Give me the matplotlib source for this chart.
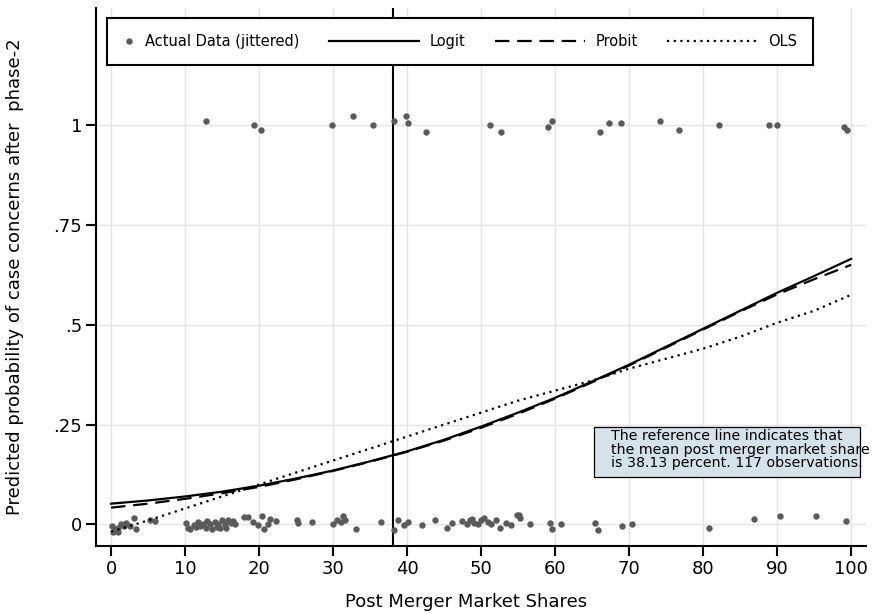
#!/usr/bin/env python3

# Predicted probability of a phase-2 case against the post merger market
# share: jittered outcomes plus the logit, probit and OLS fits

import matplotlib
matplotlib.use("Agg")
import matplotlib.pyplot as pyplot
from matplotlib.legend_handler import HandlerLine2D
from matplotlib.patches import Rectangle

OUTFILE = "out.png"
GRAPH_WID = 874
GRAPH_HEI = 614
DPI = 100

MEAN_SHARE = 38.13
NOTE = ("The reference line indicates that\n"
        "the mean post merger market share\n"
        "is 38.13 percent. 117 observations.")

# jittered outcomes of the cases that went to phase-2 (around 1)
phase2_share = [12.8, 19.3, 20.3, 29.9, 32.7, 35.4, 38.2, 39.8, 40.1, 42.6,
                51.2, 52.7, 59.0, 59.6, 66.1, 67.3, 68.9, 74.2, 76.7, 82.2,
                88.9, 90.0, 99.0, 99.5]
phase2_jit = [1.011, 1.0, 0.987, 1.0, 1.022, 1.0, 1.011, 1.022, 1.005, 0.983,
              1.0, 0.983, 0.995, 1.011, 0.983, 1.005, 1.005, 1.011, 0.987, 1.0,
              1.0, 1.0, 0.995, 0.987]

# jittered outcomes of the cleared cases (around 0)
cleared_share = [0.1, 0.2, 0.5, 0.9, 1.0, 1.3, 1.8, 2.0, 2.6, 3.1, 3.4,
                 5.3, 5.9,
                 10.1, 10.4, 10.7, 11.2, 11.5, 11.8, 12.0, 12.4, 12.8, 13.0,
                 13.4, 13.6, 14.0, 14.3, 14.5, 14.7, 15.0, 15.4, 15.6, 15.8,
                 16.2, 16.5, 16.8,
                 17.9, 18.5, 19.2, 19.9, 20.4, 20.7, 21.2, 21.5, 22.3,
                 25.1, 25.3, 27.2,
                 30.0, 30.5, 31.1, 31.4, 31.6, 33.1,
                 36.5, 38.2, 38.8, 39.6, 40.1,
                 42.0, 43.8, 45.4, 46.1, 47.4, 48.1, 48.5, 48.8, 49.0, 49.6,
                 50.0, 50.4, 50.9, 51.4, 52.0, 52.6, 53.4, 54.0,
                 54.9, 55.1, 55.3, 56.6,
                 59.3, 59.6, 60.8,
                 65.4, 65.8, 69.1, 70.4,
                 80.8, 86.9, 90.4, 95.3, 99.3]
cleared_jit = [-0.005, -0.018, -0.012, -0.010, -0.020, 0.000, -0.005, 0.004, -0.004, 0.015, -0.012,
               0.010, 0.008,
               0.004, -0.008, -0.012, -0.002, -0.006, 0.006, -0.004, 0.002, -0.010, 0.008,
               0.000, -0.012, 0.005, -0.006, 0.002, -0.010, 0.010, 0.000, -0.008, 0.012,
               0.004, 0.008, 0.002,
               0.018, 0.018, 0.006, -0.002, 0.022, -0.012, 0.002, 0.014, 0.008,
               0.010, 0.004, 0.005,
               0.000, 0.012, 0.006, 0.020, 0.012, -0.012,
               0.006, -0.014, 0.012, -0.002, 0.006,
               -0.002, 0.012, -0.008, 0.004, 0.008, 0.000, 0.010, 0.014, 0.004, 0.000,
               0.012, 0.016, 0.006, 0.002, 0.010, -0.008, 0.004, -0.002,
               0.024, 0.024, 0.016, 0.002,
               0.004, -0.012, 0.000,
               0.004, -0.014, -0.004, 0.001,
               -0.009, 0.014, 0.020, 0.020, 0.008]

# fitted probabilities
fit_share = [0, 5, 10, 15, 20, 25, 30, 35, 40, 45, 50,
             55, 60, 65, 70, 75, 80, 85, 90, 95, 100]
logit_fit = [0.052, 0.060, 0.070, 0.082, 0.097, 0.115, 0.135, 0.158, 0.183, 0.212, 0.245,
             0.280, 0.317, 0.358, 0.400, 0.445, 0.490, 0.535, 0.580, 0.622, 0.665]
probit_fit = [0.042, 0.052, 0.064, 0.078, 0.094, 0.113, 0.134, 0.157, 0.182, 0.210, 0.242,
              0.277, 0.315, 0.356, 0.398, 0.443, 0.488, 0.533, 0.576, 0.614, 0.650]
ols_fit = [-0.018, 0.010, 0.040, 0.070, 0.100, 0.130, 0.160, 0.190, 0.220, 0.250, 0.280,
           0.310, 0.335, 0.360, 0.390, 0.415, 0.440, 0.470, 0.505, 0.535, 0.575]

x_ticks = [0, 10, 20, 30, 40, 50, 60, 70, 80, 90, 100]
y_ticks = [0, 0.25, 0.5, 0.75, 1]
y_ticklabels = ["0", ".25", ".5", ".75", "1"]

DOT_COLOR = "#5a5a5a"
GRID_COLOR = "#e4e4e4"
NOTE_FILL = "#d6e2e9"
AXIS_FONT = 13


class HandlerDot(HandlerLine2D):
	# the dot gets a narrow handle box, the lines keep the long one
	def legend_artist(self, legend, orig_handle, fontsize, handlebox):
		handlebox.width = 0.8 * fontsize
		return HandlerLine2D.legend_artist(self, legend, orig_handle,
		                                   fontsize, handlebox)


def plot_data(outfile):
	pyplot.rcParams["font.family"] = ["DejaVu Sans"]

	fig = pyplot.figure(figsize=(GRAPH_WID / DPI, GRAPH_HEI / DPI), dpi=DPI)
	ax = fig.add_axes([96 / GRAPH_WID, 68 / GRAPH_HEI,
	                   770 / GRAPH_WID, 538 / GRAPH_HEI])

	dots = ax.plot(phase2_share + cleared_share, phase2_jit + cleared_jit,
	               marker="o", linestyle="none", markersize=4.6,
	               color=DOT_COLOR, markeredgewidth=0,
	               label="Actual Data (jittered)", zorder=3)[0]
	logit_line = ax.plot(fit_share, logit_fit, color="black", lw=1.6,
	                     label="Logit", zorder=3)[0]
	probit_line = ax.plot(fit_share, probit_fit, color="black", lw=1.6,
	                      dashes=(6.5, 3.5), label="Probit", zorder=3)[0]
	ols_line = ax.plot(fit_share, ols_fit, color="black", lw=1.6,
	                   linestyle=(0, (1, 2)), label="OLS", zorder=3)[0]

	ax.axvline(MEAN_SHARE, color="black", lw=1.5, zorder=2)

	ax.set_xlim(-2.03, 102)
	ax.set_ylim(-0.054, 1.293)
	ax.set_xticks(x_ticks)
	ax.set_yticks(y_ticks)
	ax.set_yticklabels(y_ticklabels)
	ax.grid(color=GRID_COLOR, lw=1.0)
	ax.set_axisbelow(True)

	for side in ("top", "right"):
		ax.spines[side].set_visible(False)
	for side in ("left", "bottom"):
		ax.spines[side].set_linewidth(1.5)
	ax.tick_params(direction="out", length=7, width=1.5,
	               labelsize=AXIS_FONT, pad=3)

	ax.set_xlabel("Post Merger Market Shares", fontsize=AXIS_FONT)
	ax.set_ylabel("Predicted probability of case concerns after  phase-2",
	              fontsize=AXIS_FONT)
	ax.xaxis.label.set_va("center")
	ax.yaxis.label.set_va("center")
	ax.xaxis.set_label_coords(0.48, -0.104)
	ax.yaxis.set_label_coords(-0.105, 0.5)

	# note box, the text runs past its right edge like the original
	ax.add_patch(Rectangle((65.3, 0.12), 35.9, 0.125, facecolor=NOTE_FILL,
	                       edgecolor="black", lw=0.9, clip_on=False, zorder=4))
	ax.text(67.5, 0.238, NOTE, fontsize=10.2, ha="left", va="top",
	        linespacing=0.95, zorder=5, clip_on=False)

	legend = ax.legend(handles=[dots, logit_line, probit_line, ols_line],
	                   handler_map={dots: HandlerDot(numpoints=1)},
	                   loc="upper left",
	                   bbox_to_anchor=(0.0143, 0.898, 0.917, 0.083),
	                   mode="expand", ncol=4, borderaxespad=0,
	                   fontsize=10.5, handlelength=6.2, handletextpad=0.7,
	                   borderpad=1.1, fancybox=False, framealpha=1,
	                   edgecolor="black")
	legend.get_frame().set_linewidth(1.5)
	legend.set_zorder(6)

	fig.savefig(outfile, dpi=DPI)


if (__name__ == "__main__"):
	plot_data(OUTFILE)
